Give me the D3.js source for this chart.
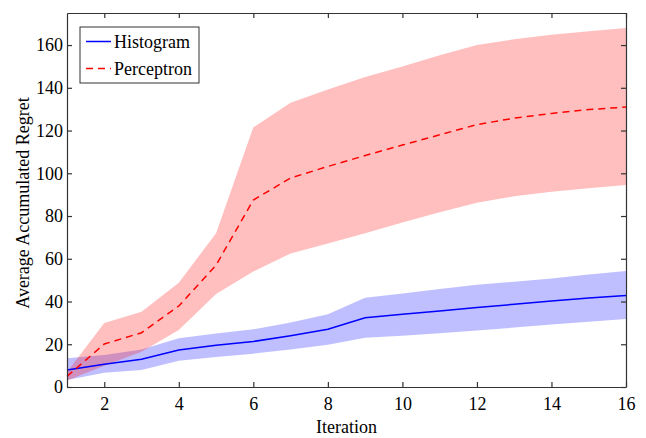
<!DOCTYPE html>
<html>
<head>
<meta charset="utf-8">
<script src="https://cdn.jsdelivr.net/npm/d3@7"></script>
<style>
  body { margin: 0; background: #fff; }
  svg text { font-family: "Times New Roman", "Liberation Serif", "DejaVu Serif", serif !important; fill: #000; }
</style>
</head>
<body>
<script>
// iterations 1..16
var iterations = [1,2,3,4,5,6,7,8,9,10,11,12,13,14,15,16];

var histMean  = [8, 10.6, 13, 17.3, 19.5, 21.3, 24, 27, 32.4, 34, 35.6, 37.2, 38.7, 40.2, 41.6, 42.8];
var histUpper = [13.4, 15, 17.6, 22.8, 25, 27, 30.2, 34, 41.8, 43.8, 45.8, 47.8, 49.3, 50.8, 52.6, 54.3];
var histLower = [3.3, 6.7, 8, 12.3, 14, 15.6, 17.6, 19.8, 23, 24, 25.2, 26.4, 27.8, 29.2, 30.5, 31.8];

var percMean  = [5, 20.1, 25.4, 37.9, 57, 87.5, 97.8, 103.2, 108.3, 113.2, 118, 122.8, 125.8, 128, 129.8, 131];
var percUpper = [7, 30, 35.2, 48.8, 72, 121.5, 133, 139.2, 145, 150, 155.2, 160, 162.7, 164.8, 166.5, 168];
var percLower = [3, 10, 16.5, 26.7, 43.5, 54, 62.5, 67.2, 71.9, 77, 81.8, 86.2, 89.2, 91.4, 93, 94.5];

var xTicks = [2,4,6,8,10,12,14,16];
var yTicks = [0,20,40,60,80,100,120,140,160];

var margin = {top: 13, right: 20, bottom: 51, left: 67}
, width = 646 - margin.left - margin.right
, height = 438 - margin.top - margin.bottom;

var x = d3.scaleLinear().domain([1, 16]).range([0, width]);
var y = d3.scaleLinear().domain([0, 175]).range([height, 0]);

var svg = d3.select('body').append('svg')
  .attr('width', 646).attr('height', 438);

var main = svg.append('g')
  .attr('transform', 'translate(' + margin.left + ',' + margin.top + ')');

var area = function(lo, hi) {
  return d3.area()
    .x(function(d, i) { return x(iterations[i]); })
    .y0(function(d, i) { return y(lo[i]); })
    .y1(function(d, i) { return y(hi[i]); });
};
var line = function(vals) {
  return d3.line()
    .x(function(d, i) { return x(iterations[i]); })
    .y(function(d, i) { return y(vals[i]); });
};

// shaded bands
main.append('path').datum(iterations).attr('d', area(histLower, histUpper))
  .attr('fill', '#0000ff').attr('fill-opacity', 0.25);
main.append('path').datum(iterations).attr('d', area(percLower, percUpper))
  .attr('fill', '#ff0000').attr('fill-opacity', 0.25);

// mean lines
main.append('path').datum(iterations).attr('d', line(histMean))
  .attr('fill', 'none').attr('stroke', '#0000ff').attr('stroke-width', 1.5);
main.append('path').datum(iterations).attr('d', line(percMean))
  .attr('fill', 'none').attr('stroke', '#ff0000').attr('stroke-width', 1.5)
  .attr('stroke-dasharray', '7,5');

// axes (matlab style, ticks pointing in, box)
var fmt = d3.format('d');
var xAxis = d3.axisBottom(x).tickValues(xTicks).tickSizeInner(-5).tickSizeOuter(0).tickPadding(10).tickFormat(fmt);
var yAxis = d3.axisLeft(y).tickValues(yTicks).tickSizeInner(-5).tickSizeOuter(0).tickPadding(4).tickFormat(fmt);
var xTop = d3.axisTop(x).tickValues(xTicks).tickSizeInner(-5).tickSizeOuter(0).tickFormat('');
var yRight = d3.axisRight(y).tickValues(yTicks).tickSizeInner(-5).tickSizeOuter(0).tickFormat('');

main.append('g').attr('transform', 'translate(0,' + height + ')').call(xAxis);
main.append('g').call(yAxis);
main.append('g').call(xTop);
main.append('g').attr('transform', 'translate(' + width + ',0)').call(yRight);
main.selectAll('.domain').attr('stroke', '#333').attr('stroke-width', 1.2);
main.selectAll('.tick line').attr('stroke', '#333').attr('stroke-width', 1.2);
main.selectAll('.tick text').attr('font-size', 18).style('font-size', '18px');

main.append('text')
  .attr('x', width / 2).attr('y', height + 46)
  .style('text-anchor', 'middle').style('font-size', '18px')
  .text('Iteration');

main.append('text')
  .attr('transform', 'rotate(-90)')
  .attr('x', -height / 2 - 3).attr('y', -38)
  .style('text-anchor', 'middle').style('font-size', '18px')
  .text('Average Accumulated Regret');

// legend
var leg = main.append('g').attr('transform', 'translate(13,14)');
leg.append('rect').attr('width', 119).attr('height', 56)
  .attr('fill', '#fff').attr('stroke', '#333').attr('stroke-width', 1);
var items = [
  {name: 'Histogram', color: '#0000ff', dash: null},
  {name: 'Perceptron', color: '#ff0000', dash: '7,5'}
];
items.forEach(function(d, i) {
  var yy = 14.5 + i * 27;
  leg.append('line').attr('x1', 6).attr('x2', 31).attr('y1', yy).attr('y2', yy)
    .attr('stroke', d.color).attr('stroke-width', 1.5)
    .attr('stroke-dasharray', d.dash);
  leg.append('text').attr('x', 34).attr('y', yy + 6)
    .style('font-size', '18px').text(d.name);
});
</script>
</body>
</html>
